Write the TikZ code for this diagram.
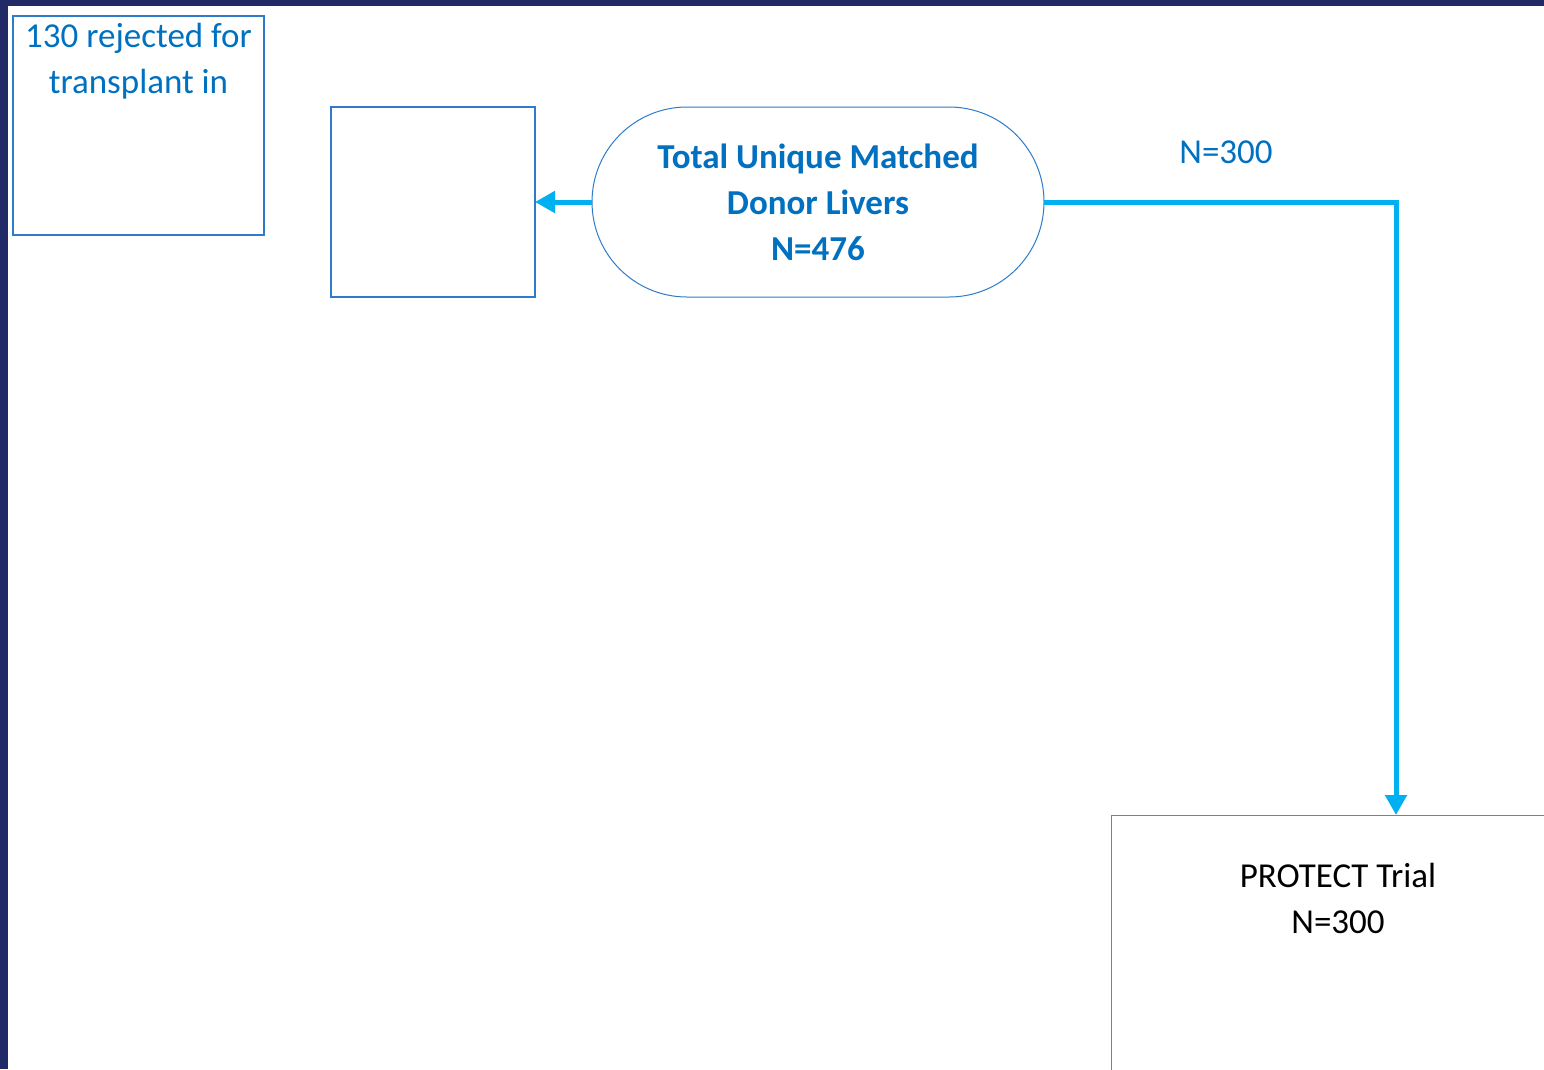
\documentclass[tikz,border=0pt]{standalone}
\usepackage{fontspec}
\setmainfont{Carlito}
\usetikzlibrary{arrows.meta,calc}
\definecolor{frame}{HTML}{212A66}
\definecolor{boxblue}{HTML}{2E7BC8}
\definecolor{txtblue}{HTML}{0070C0}
\definecolor{flow}{HTML}{00B0F0}
\definecolor{greyline}{HTML}{808080}
\begin{document}
\begin{tikzpicture}[x=1pt,y=-1pt,
  every node/.style={inner sep=0pt,outer sep=0pt},
  bigtext/.style={font=\fontsize{35}{46}\selectfont},
  bluebox/.style={draw=boxblue,line width=1.2pt,fill=white,rectangle},
  conn/.style={draw=flow,line width=5pt,-{Triangle[length=20pt,width=21pt]}}]
  % page frame
  \useasboundingbox (0,0) rectangle (1544,1069);
  \fill[frame] (0,0) rectangle (1544,1069);
  \fill[white] (8,6) rectangle (1544,1069);
  \clip (8,6) rectangle (1544,1069);

  % boxes
  \node[bluebox,minimum width=251pt,minimum height=219pt] (rej) at (138.5,125.5) {};
  \node[bigtext,text=txtblue,align=center,anchor=base] (rejtxt) at (138.5,93)
    {130 rejected for\\transplant in};
  \node[bluebox,minimum width=204pt,minimum height=190pt] (side) at (433,202) {};
  \node[draw=boxblue,line width=1pt,rounded corners=95pt,minimum width=452pt,
        minimum height=190pt,text=txtblue,align=center,font=\fontsize{35}{46}\selectfont\bfseries]
    (total) at (818,202) {Total Unique Matched\\Donor Livers\\N=476};
  \node[draw=greyline,line width=1pt,fill=white,minimum width=454pt,minimum height=300pt,anchor=north west]
    (trial) at (1111,815) {};
  \node[bigtext,text=black,align=center,anchor=base] (trialtxt) at (1338,933)
    {PROTECT Trial\\N=300};
  \coordinate (entry) at (1396,815);

  % connectors
  \draw[conn] (total.west) -- (side.east);
  \draw[conn] (total.east) -| (entry);
  \node[bigtext,text=txtblue,anchor=base] (nlabel) at (1226,163) {N=300};
\end{tikzpicture}
\end{document}
